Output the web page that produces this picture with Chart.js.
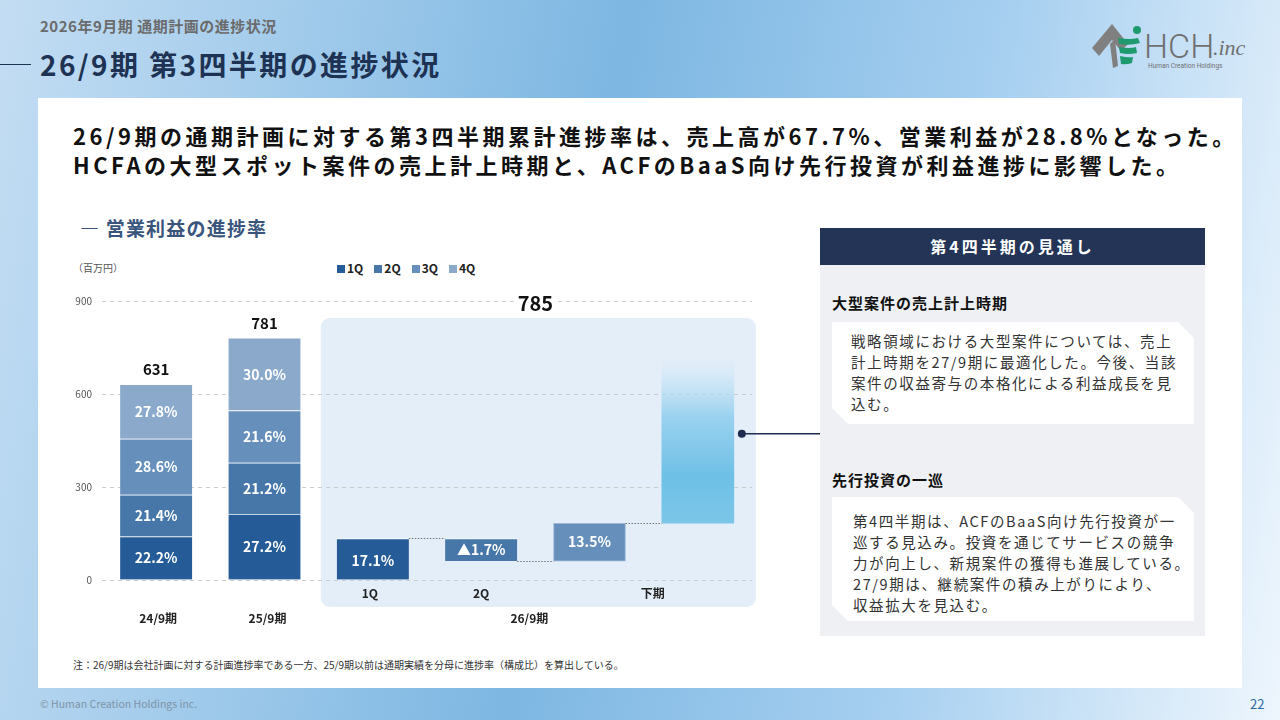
<!DOCTYPE html>
<html lang="ja">
<head>
<meta charset="utf-8">
<script src="https://cdn.jsdelivr.net/npm/chart.js@4.4.1/dist/chart.umd.min.js"></script>
<style>
  * { margin: 0; padding: 0; box-sizing: border-box; }
  body {
    width: 1280px; height: 720px; overflow: hidden; position: relative;
    font-family: 'Noto Sans CJK JP', 'Noto Sans', sans-serif;
    background: linear-gradient(100deg, #c3ddf3 0%, #7db7e2 45%, #a6cff0 72%, #eef6fd 100%);
  }
  .abs { position: absolute; white-space: nowrap; }
  #content { position: absolute; left: 38px; top: 98px; width: 1204px; height: 590px; background: #fff; }
  #kicker { left: 40px; top: 16px; font-size: 15px; line-height: 20px; font-weight: 700; color: #6b6b6b; letter-spacing: 0.5px; }
  #title { left: 40px; top: 47px; font-size: 28px; line-height: 34px; font-weight: 700; color: #1e3354; letter-spacing: 2.4px; }
  #titleLine { left: 0; top: 64px; width: 31px; height: 1px; background: #1e3354; }
  .lead { left: 73px; font-size: 22px; line-height: 29px; font-weight: 700; color: #111; letter-spacing: 3.5px; }
  #section { left: 80px; top: 216px; font-size: 19px; line-height: 24px; font-weight: 700; color: #3a557c; letter-spacing: 1.2px; }
  #unit { left: 73px; top: 261px; font-size: 10px; line-height: 14px; color: #555; }
  #legend { left: 337px; top: 260px; font-size: 12px; line-height: 16px; font-weight: 700; color: #222; display: flex; gap: 11px; }
  #legend span.sw { display: inline-block; width: 8px; height: 8px; margin-right: 2px; vertical-align: 0px; }
  #chartBox { position: absolute; left: 60px; top: 285px; width: 762px; height: 355px; }
  #panel { position: absolute; left: 820px; top: 228px; width: 385px; height: 408px; background: #eef0f3; }
  #panelHead { position: absolute; left: 0; top: 0; width: 385px; height: 37px; background: #233457; color: #fff;
    font-size: 16px; font-weight: 700; line-height: 37px; text-align: center; letter-spacing: 3px; }
  .sub { font-size: 15px; line-height: 20px; font-weight: 700; color: #111; letter-spacing: 1px; }
  .box { position: absolute; background: #fff;
    clip-path: polygon(0 0, calc(100% - 16px) 0, 100% 16px, 100% 100%, 16px 100%, 0 calc(100% - 16px)); }
  .box p { position: absolute; left: 19px; font-size: 14.5px; line-height: 21px; color: #333; letter-spacing: 1.6px; white-space: nowrap; }
  #note { left: 73px; top: 658px; font-size: 10px; line-height: 14px; color: #333; }
  #copy { left: 40px; top: 697px; font-size: 10.5px; line-height: 14px; color: #7f93a6; }
  #page { left: 1250px; top: 696px; font-size: 13px; line-height: 16px; color: #2f6aa3; }
</style>
</head>
<body>
<div id="content"></div>
<div class="abs" id="kicker">2026年9月期 通期計画の進捗状況</div>
<div class="abs" id="titleLine"></div>
<div class="abs" id="title">26/9期 第3四半期の進捗状況</div>

<svg class="abs" style="left:1088px;top:18px" width="160" height="54" viewBox="0 0 160 54">
  <polygon points="4,30 24,6 40,26 33,33 24,22 11,38" fill="#808080"/>
  <polygon points="22,26 27,21 30,48 25,50" fill="#808080"/>
  <circle cx="49" cy="12" r="4" fill="#1f9a6e"/>
  <path d="M30,20 Q42,22 50,20 L52,25 Q42,28 31,26 Z" fill="#1f9a6e"/>
  <path d="M31,29 Q42,31 48,29 L49,35 Q40,37 32,35 Z" fill="#1f9a6e"/>
  <path d="M32,38 Q40,40 45,39 L44,45 Q38,47 33,46 Z" fill="#1f9a6e"/>
  <text x="56" y="40" font-family="Roboto, sans-serif" font-size="34" font-weight="300" fill="#707070">HCH</text>
  <text x="125" y="37" font-family="'Liberation Serif', serif" font-size="22" font-style="italic" fill="#707070">.inc</text>
  <text x="60" y="50" font-family="Roboto, sans-serif" font-size="6.5" fill="#707070">Human Creation Holdings</text>
</svg>

<div class="abs lead" style="top:121px">26/9期の通期計画に対する第3四半期累計進捗率は、売上高が67.7%、営業利益が28.8%となった。</div>
<div class="abs lead" style="top:150px">HCFAの大型スポット案件の売上計上時期と、ACFのBaaS向け先行投資が利益進捗に影響した。</div>

<div class="abs" id="section">— 営業利益の進捗率</div>
<div class="abs" id="unit">（百万円）</div>
<div class="abs" id="legend"></div>

<div id="chartBox"><canvas id="chart"></canvas></div>

<div id="panel">
  <div id="panelHead">第4四半期の見通し</div>
  <div class="abs sub" style="left:12px;top:65px">大型案件の売上計上時期</div>
  <div class="box" style="left:12px;top:94px;width:362px;height:102px">
    <p style="top:8px">戦略領域における大型案件については、売上<br>計上時期を27/9期に最適化した。今後、当該<br>案件の収益寄与の本格化による利益成長を見<br>込む。</p>
  </div>
  <div class="abs sub" style="left:12px;top:242px">先行投資の一巡</div>
  <div class="box" style="left:12px;top:269px;width:362px;height:124px">
    <p style="top:13px;left:21px">第4四半期は、ACFのBaaS向け先行投資が一<br>巡する見込み。投資を通じてサービスの競争<br>力が向上し、新規案件の獲得も進展している。<br>27/9期は、継続案件の積み上がりにより、<br>収益拡大を見込む。</p>
  </div>
</div>

<div class="abs" id="note">注：26/9期は会社計画に対する計画進捗率である一方、25/9期以前は通期実績を分母に進捗率（構成比）を算出している。</div>
<div class="abs" id="copy">© Human Creation Holdings inc.</div>
<div class="abs" id="page">22</div>

<script>
'use strict'
// categories on the x axis ('' = 3Q slot of 26/9, its label sits under 下期)
const categories = ['24/9期', '25/9期', '1Q', '2Q', '', '下期'];
const quarterNames = ['1Q', '2Q', '3Q', '4Q'];
const quarterColors = ['#255c97', '#4677a8', '#6690bb', '#8aa9cb'];

// 24/9期 and 25/9期: full-year actuals and quarter shares (%)
const pastTotals = [631, 781];
const share1Q = [22.2, 27.2];
const share2Q = [21.4, 21.2];
const share3Q = [28.6, 21.6];
const share4Q = [27.8, 30.0];

// 26/9期 plan waterfall (百万円, as drawn)
const planTotal = 785;
const planLabels = ['17.1%', '▲1.7%', '13.5%'];
const planLow = [0, 61, 61, 183];
const planHigh = [134, 134, 183, 785];

const yTicks = [0, 300, 600, 900];

// legend
let legendBox = document.getElementById('legend');
for (let i = 0; i < quarterNames.length; i++) {
    let item = document.createElement('div');
    item.innerHTML = '<span class="sw" style="background:' + quarterColors[i] + '"></span>' + quarterNames[i];
    legendBox.appendChild(item);
}

const shares = [share1Q, share2Q, share3Q, share4Q];
let datasets = [];
let cum = pastTotals.map(() => 0);
for (let q = 0; q < 4; q++) {
    let data = [];
    let labels = [];
    for (let p = 0; p < pastTotals.length; p++) {
        let v = pastTotals[p] * shares[q][p] / 100;
        data.push([cum[p], cum[p] + v]);
        labels.push(shares[q][p].toFixed(1) + '%');
        cum[p] += v;
    }
    for (let k = 0; k < 4; k++) {
        if (k === q && k < 3) {
            data.push([planLow[k], planHigh[k]]);
            labels.push(planLabels[k]);
        } else {
            data.push(null);
            labels.push('');
        }
    }
    datasets.push({
        label: quarterNames[q],
        data: data,
        valueLabels: labels,
        backgroundColor: quarterColors[q],
        borderColor: q === 2 ? ['rgba(255,255,255,0.7)', 'rgba(255,255,255,0.7)', '', '', '#9db8d6', ''] : 'rgba(255,255,255,0.7)',
        borderWidth: q === 2 ? [{ top: 1 }, { top: 1 }, 0, 0, 1, 0] : { top: 1, left: 0, right: 0, bottom: 0 },
        borderSkipped: false,
    });
}

// 下期 forecast bar with fade
datasets.push({
    label: '下期',
    data: [null, null, null, null, null, [planLow[3], planHigh[3]]],
    valueLabels: [],
    backgroundColor: function (ctx) {
        const chart = ctx.chart;
        if (!chart.chartArea) return '#6ec0e6';
        const y = chart.scales.y;
        const g = chart.ctx.createLinearGradient(0, y.getPixelForValue(planLow[3]), 0, y.getPixelForValue(735));
        g.addColorStop(0, '#7bc6e8');
        g.addColorStop(0.28, '#6ec0e6');
        g.addColorStop(0.62, 'rgba(140,204,237,0.85)');
        g.addColorStop(0.85, 'rgba(200,228,246,0.6)');
        g.addColorStop(1, 'rgba(227,238,249,0)');
        return g;
    },
    borderWidth: 0,
});

const panelPlugin = {
    id: 'panel',
    beforeDraw(chart) {
        const c = chart.ctx;
        const x = chart.scales.x, y = chart.scales.y;
        const left = x.getPixelForValue(2) - 52;
        const right = x.getPixelForValue(5) + 58;
        const top = y.getPixelForValue(845);
        const bottom = chart.chartArea.bottom + 27;
        c.save();
        c.fillStyle = '#e3eef9';
        c.beginPath();
        c.roundRect(left, top, right - left, bottom - top, 9);
        c.fill();
        c.restore();
    }
};

const labelsPlugin = {
    id: 'labels',
    afterDatasetsDraw(chart) {
        const c = chart.ctx;
        const x = chart.scales.x, y = chart.scales.y;
        c.save();
        c.textAlign = 'center';
        c.textBaseline = 'middle';

        // segment labels
        c.fillStyle = '#fff';
        c.font = 'bold 14px "Noto Sans CJK JP"';
        chart.data.datasets.forEach((ds, di) => {
            const meta = chart.getDatasetMeta(di);
            meta.data.forEach((el, i) => {
                const t = ds.valueLabels[i];
                if (!t) return;
                let cy = (el.y + el.base) / 2;
                if (i === 2) cy += 2;
                c.fillText(t, el.x, cy);
            });
        });

        // dotted connectors of the waterfall
        const meta0 = chart.getDatasetMeta(0);
        const half = meta0.data[2].width / 2;
        const steps = [[2, 3, planHigh[0]], [3, 4, planLow[1]], [4, 5, planLow[3]]];
        c.strokeStyle = '#777';
        c.lineWidth = 1;
        c.setLineDash([1.5, 1.5]);
        steps.forEach(s => {
            const yy = Math.round(y.getPixelForValue(s[2])) + 0.5;
            c.beginPath();
            c.moveTo(x.getPixelForValue(s[0]) + half, yy);
            c.lineTo(x.getPixelForValue(s[1]) - half, yy);
            c.stroke();
        });
        c.setLineDash([]);

        // totals above the bars
        c.fillStyle = '#111';
        c.font = 'bold 15px "Noto Sans CJK JP"';
        pastTotals.forEach((t, i) => {
            c.fillText(String(t), x.getPixelForValue(i), y.getPixelForValue(t) - 15);
        });
        const px = (x.getPixelForValue(2) + x.getPixelForValue(5)) / 2;
        c.font = 'bold 20px "Noto Sans CJK JP"';
        const w = c.measureText(String(planTotal)).width;
        c.fillStyle = '#fff';
        c.fillRect(px - w / 2 - 4, y.getPixelForValue(900) - 10, w + 8, 20);
        c.fillStyle = '#111';
        c.fillText(String(planTotal), px, y.getPixelForValue(900) + 2);

        // x labels
        c.font = 'bold 12px "Noto Sans CJK JP"';
        c.fillStyle = '#222';
        const base = chart.chartArea.bottom;
        c.fillText(categories[0], x.getPixelForValue(0) + 2, base + 38);
        c.fillText(categories[1], x.getPixelForValue(1) + 3, base + 38);
        c.fillText(categories[2], x.getPixelForValue(2) - 3, base + 13);
        c.fillText(categories[3], x.getPixelForValue(3), base + 13);
        c.fillText(categories[5], (x.getPixelForValue(4) + x.getPixelForValue(5)) / 2 + 9, base + 13);
        c.fillText('26/9期', px - 6, base + 38);

        // pointer to the right panel
        const meta4 = chart.getDatasetMeta(4);
        const bar = meta4.data[5];
        const dx = bar.x + bar.width / 2 + 8;
        const dy = y.getPixelForValue(472);
        c.strokeStyle = '#1e2d4f';
        c.lineWidth = 1.5;
        c.beginPath();
        c.moveTo(dx, dy);
        c.lineTo(chart.width, dy);
        c.stroke();
        c.fillStyle = '#1e2d4f';
        c.beginPath();
        c.arc(dx, dy, 4, 0, Math.PI * 2);
        c.fill();
        c.restore();
    }
};

new Chart(document.getElementById('chart'), {
    type: 'bar',
    data: { labels: categories, datasets: datasets },
    options: {
        responsive: true,
        maintainAspectRatio: false,
        animation: false,
        layout: { padding: { top: 15, right: 70, bottom: 60, left: 0 } },
        datasets: { bar: { grouped: false, barThickness: 72 } },
        plugins: { legend: { display: false }, tooltip: { enabled: false } },
        scales: {
            x: {
                grid: { display: false },
                border: { display: false },
                ticks: { display: false },
                afterFit(scale) { scale.height = 0; },
            },
            y: {
                min: 0,
                max: 900,
                afterBuildTicks(scale) { scale.ticks = yTicks.map(v => ({ value: v })); },
                afterFit(scale) { scale.width = 42; },
                grid: { color: '#cccccc', drawTicks: false, lineWidth: 1 },
                border: { display: false, dash: [4, 4] },
                ticks: { color: '#555', padding: 10, font: { size: 10, family: 'Noto Sans CJK JP' } },
            }
        }
    },
    plugins: [panelPlugin, labelsPlugin]
});
</script>
</body>
</html>
